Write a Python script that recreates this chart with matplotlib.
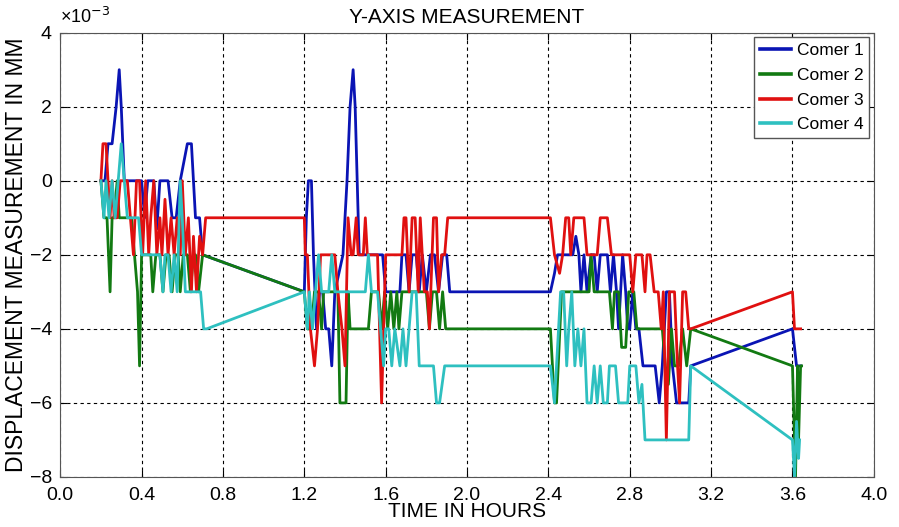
import matplotlib
matplotlib.use("Agg")
import matplotlib.pyplot as plt

plt.rcParams["font.family"] = ["Liberation Sans", "DejaVu Sans"]

# readings in units of 1e-3 mm, time in hours
t1 = [0.20, 0.22, 0.235, 0.255, 0.275, 0.29, 0.30, 0.315, 0.33, 0.40, 0.415, 0.43, 0.46, 0.475,
      0.49, 0.53, 0.55, 0.57, 0.59, 0.625, 0.645, 0.665, 0.685, 0.70,
      1.20, 1.21, 1.22, 1.235, 1.245, 1.26, 1.275, 1.29, 1.305, 1.32, 1.335, 1.35, 1.39, 1.41,
      1.425, 1.44, 1.45, 1.46, 1.47, 1.585, 1.60, 1.67, 1.68, 1.70, 1.715, 1.73, 1.75, 1.765,
      1.78, 1.80, 1.82, 1.84, 1.86, 1.88, 1.90, 1.915, 2.41,
      2.43, 2.445, 2.52, 2.535, 2.55, 2.56, 2.575, 2.59, 2.61, 2.625, 2.64, 2.655, 2.69, 2.705,
      2.72, 2.735, 2.745, 2.755, 2.765, 2.78, 2.79, 2.80, 2.815, 2.83, 2.845, 2.865, 2.925,
      2.945, 2.96, 2.98, 2.995, 3.01, 3.03, 3.09, 3.10, 3.60, 3.62, 3.64]
v1 = [0, 0, 1, 1, 2, 3, 2, 0, 0, 0, -1, 0, 0, -1.3,
      0, 0, -1, -1, 0, 1, 1, -1, -1, -2,
      -3, -1, 0, 0, -2, -4, -3, -3, -4, -4, -5, -3, -2, 0,
      2, 3, 2, 0, -2, -2, -3, -3, -2, -2, -3, -2, -2, -3,
      -2, -3, -2, -2, -3, -2, -2, -3, -3,
      -2.5, -2, -2, -1.5, -2, -3, -2, -3, -2, -2, -3, -2, -2, -3,
      -2, -3, -4, -3, -2, -3, -4, -4, -3, -4, -4, -5, -5,
      -6, -5, -3, -3, -5, -6, -6, -5, -4, -5, -5]

t2 = [0.20, 0.215, 0.23, 0.245, 0.255, 0.265, 0.28, 0.29, 0.35, 0.365, 0.38, 0.39, 0.40, 0.445,
      0.455, 0.47, 0.49, 0.505, 0.52, 0.535, 0.55, 0.565, 0.58, 0.59, 0.605, 0.625, 0.64,
      0.655, 0.665, 0.68, 0.70,
      1.20, 1.215, 1.235, 1.25, 1.27, 1.285, 1.295, 1.365, 1.375, 1.405, 1.415, 1.425, 1.515,
      1.53, 1.565, 1.58, 1.595, 1.61, 1.625, 1.64, 1.655, 1.665, 1.68, 1.80, 1.815, 1.83, 1.85,
      1.865, 1.88, 1.895, 2.41,
      2.43, 2.44, 2.465, 2.60, 2.61, 2.625, 2.70, 2.715, 2.725, 2.745, 2.76, 2.78, 2.795, 2.82,
      2.835, 2.96, 2.975, 2.99, 3.005, 3.02, 3.04, 3.06, 3.08, 3.10,
      3.60, 3.615, 3.625, 3.63, 3.64, 3.645]
v2 = [0, -1, -1, -3, -1, -1, 0, -1, -1, -2, -3, -5, -2, -2,
      -3, -2, -2, -3, -2, -2, -3, -2, -2, -3, -2, -2, -3,
      -2, -2, -3, -2,
      -3, -4, -4, -3, -3, -4, -3, -3, -6, -6, -3, -4, -4,
      -3, -3, -4, -3, -4, -3, -4, -3, -4, -3, -3, -4, -3, -3,
      -4, -3, -4, -4,
      -6, -6, -3, -3, -2, -3, -3, -4, -3, -3, -4.5, -4.5, -3, -3,
      -4, -4, -5, -5.5, -4, -5, -5, -4, -5, -4,
      -5, -8, -5, -7, -5, -5]

t3 = [0.20, 0.21, 0.225, 0.235, 0.245, 0.255, 0.265, 0.28, 0.295, 0.33, 0.345, 0.36, 0.375,
      0.39, 0.405, 0.42, 0.435, 0.445, 0.46, 0.475, 0.49, 0.50, 0.515, 0.53, 0.545, 0.56, 0.575,
      0.59, 0.60, 0.615, 0.63, 0.645, 0.655, 0.67, 0.685, 0.70, 0.715,
      1.20, 1.205, 1.215, 1.23, 1.25, 1.265, 1.28, 1.35, 1.365, 1.385, 1.40, 1.415, 1.43, 1.44,
      1.455, 1.465, 1.49, 1.50, 1.51, 1.56, 1.57, 1.58, 1.59, 1.60, 1.68, 1.69, 1.70, 1.715,
      1.73, 1.745, 1.76, 1.77, 1.79, 1.805, 1.815, 1.835, 1.85, 1.86, 1.875, 1.89, 1.905, 2.41,
      2.43, 2.455, 2.47, 2.485, 2.50, 2.51, 2.525, 2.575, 2.59, 2.64, 2.655, 2.69, 2.71, 2.80,
      2.815, 2.83, 2.86, 2.875, 2.885, 2.90, 2.92, 2.94, 2.955, 2.965, 2.98, 2.995, 3.02,
      3.035, 3.045, 3.06, 3.075, 3.09, 3.10, 3.60, 3.61, 3.64]
v3 = [0, 1, 1, 0, -1, 0, -1, -1, 0, 0, -1, -2, 0,
      0, -2, 0, -2, -1, 0, -2, -1, -2, -0.5, -2, -1, -2, -1,
      -2, 0, -2, -1, -3, -1.5, -3, -1.5, -2, -1,
      -1, -2, -2, -4, -5, -4, -2, -2, -3, -4, -5, -1, -2, -2,
      -1, -2, -2, -1, -2, -2, -4, -6, -4, -2, -2, -1, -1, -3,
      -1, -1, -3, -1, -3, -3, -4, -1, -1, -3, -2, -2, -1, -1,
      -2, -2.5, -2, -1, -1, -2, -1, -1, -2, -2, -1, -1, -2, -2,
      -3, -2, -2, -3, -2, -2, -3, -3, -4, -3, -7, -3, -3,
      -5, -6, -3, -3, -4, -4, -3, -4, -4]

t4 = [0.20, 0.215, 0.225, 0.24, 0.255, 0.27, 0.285, 0.30, 0.315, 0.33, 0.385, 0.40, 0.49,
      0.505, 0.515, 0.53, 0.545, 0.56, 0.575, 0.59, 0.60, 0.615, 0.69, 0.705, 0.72,
      1.20, 1.215, 1.225, 1.24, 1.255, 1.27, 1.285, 1.32, 1.335, 1.35, 1.50, 1.515, 1.53,
      1.56, 1.575, 1.59, 1.60, 1.615, 1.63, 1.645, 1.67, 1.685, 1.70, 1.715, 1.73, 1.75,
      1.765, 1.835, 1.85, 1.865, 1.89, 2.41,
      2.43, 2.45, 2.46, 2.475, 2.49, 2.50, 2.515, 2.53, 2.545, 2.56, 2.575, 2.59, 2.61, 2.625,
      2.64, 2.655, 2.67, 2.69, 2.70, 2.73, 2.745, 2.79, 2.80, 2.83, 2.845, 2.86, 2.875, 3.09,
      3.10, 3.60, 3.61, 3.62, 3.63, 3.635]
v4 = [0, -1, 0, -1, 0, -1, 0, 1, 0, -1, -1, -2, -2,
      -3, -2, -2, -3, -2, -3, 0, -1, -3, -3, -4, -4,
      -3, -4, -3, -4, -3, -2, -3, -3, -2, -3, -3, -2, -3,
      -3, -4, -5, -4, -4, -5, -4, -5, -4, -5, -4, -3, -3,
      -5, -5, -6, -6, -5, -5,
      -6, -4, -3, -3, -5, -4, -3, -5, -4, -5, -4, -6, -6, -5,
      -6, -5, -6, -6, -5, -5, -6, -6, -5, -5, -6, -5.5, -7, -7,
      -5, -7, -8, -6.5, -7.5, -7]

series = [(t1, v1, "Comer 1", "#0a14b4"),
          (t2, v2, "Comer 2", "#127a12"),
          (t3, v3, "Comer 3", "#e01010"),
          (t4, v4, "Comer 4", "#2ec0c0")]

fig = plt.figure(figsize=(8.99, 5.27), dpi=100)
ax = fig.add_axes([0.067, 0.095, 0.905, 0.843])

for t, v, name, col in series:
    ax.plot(t, v, color=col, linewidth=2.0, label=name)

ax.set_xlim(0, 4)
ax.set_ylim(-8, 4)
ax.set_xticks([0.0, 0.4, 0.8, 1.2, 1.6, 2.0, 2.4, 2.8, 3.2, 3.6, 4.0])
ax.set_xticklabels(["0.0", "0.4", "0.8", "1.2", "1.6", "2.0", "2.4", "2.8", "3.2", "3.6", "4.0"])
ax.set_yticks([-8, -6, -4, -2, 0, 2, 4])
ax.tick_params(direction="in", top=True, right=True, length=5, labelsize=14, colors="black")
ax.tick_params(axis="x", pad=7)
ax.tick_params(axis="y", pad=6)
ax.grid(True, color="black", linestyle=(0, (3, 3)), linewidth=0.8)
for spine in ax.spines.values():
    spine.set_color("#555555")

ax.set_title("Y-AXIS MEASUREMENT", fontsize=15, pad=7)
ax.set_xlabel("TIME IN HOURS", fontsize=15, labelpad=-1)
ax.set_ylabel("DISPLACEMENT MEASUREMENT IN MM", fontsize=16.5, labelpad=1)
ax.text(0.0, 1.012, r"×10$^{-3}$", transform=ax.transAxes, fontsize=13, ha="left", va="bottom")

leg = ax.legend(loc="upper right", fontsize=12.5, handlelength=1.8, handletextpad=0.3,
                borderpad=0.35, labelspacing=0.55, fancybox=False, framealpha=1,
                borderaxespad=0.25)
leg.get_frame().set_edgecolor("#555555")
for line in leg.get_lines():
    line.set_linewidth(2.6)

fig.savefig("out.png", dpi=100)
